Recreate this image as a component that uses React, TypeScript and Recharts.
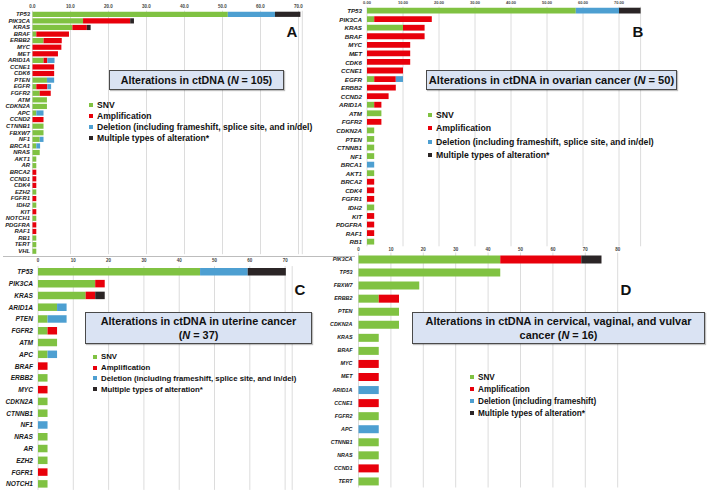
import { BarChart, Bar, XAxis, YAxis, CartesianGrid, Legend } from 'recharts';

const FONT = '"Liberation Sans", Arial, sans-serif';
const GREEN = '#80c242';
const RED = '#e8000b';
const BLUE = '#4d9fd1';
const BLACK = '#2b2526';

// Panel A: all patients (N = 105), % of patients
const genesA = ['TP53', 'PIK3CA', 'KRAS', 'BRAF', 'ERBB2', 'MYC', 'MET', 'ARID1A', 'CCNE1', 'CDK6', 'PTEN', 'EGFR', 'FGFR2', 'ATM', 'CDKN2A', 'APC', 'CCND2', 'CTNNB1', 'FBXW7', 'NF1', 'BRCA1', 'NRAS', 'AKT1', 'AR', 'BRCA2', 'CCND1', 'CDK4', 'EZH2', 'FGFR1', 'IDH2', 'KIT', 'NOTCH1', 'PDGFRA', 'RAF1', 'RB1', 'TERT', 'VHL'];
const snvA = [51.4, 13.3, 10.5, 1.0, 2.9, 0, 0, 2.9, 0, 0, 3.8, 1.0, 1.9, 3.8, 3.8, 1.0, 0, 2.9, 2.9, 1.9, 1.0, 1.9, 1.0, 1.0, 0, 0, 0, 1.0, 0, 1.0, 0, 1.0, 0, 0, 1.0, 1.0, 1.0];
const ampA = [0, 12.4, 3.8, 8.6, 4.8, 7.6, 6.7, 1.0, 5.7, 5.7, 0, 2.9, 2.9, 0, 0, 0, 2.9, 0, 0, 0, 0, 0, 0, 0, 1.0, 1.0, 1.0, 0, 1.0, 0, 1.0, 0, 1.0, 1.0, 0, 0, 0];
const delA = [12.4, 0, 0, 0, 0, 0, 0, 1.9, 0, 0, 1.9, 1.0, 0, 0, 0, 1.9, 0, 0, 0, 1.0, 1.0, 0, 0, 0, 0, 0, 0, 0, 0, 0, 0, 0, 0, 0, 0, 0, 0];
const multiA = [6.7, 1.0, 1.0, 0, 0, 0, 0, 0, 0, 0, 0, 0, 0, 0, 0, 0, 0, 0, 0, 0, 0, 0, 0, 0, 0, 0, 0, 0, 0, 0, 0, 0, 0, 0, 0, 0, 0];

// Panel B: ovarian (N = 50)
const genesB = ['TP53', 'PIK3CA', 'KRAS', 'BRAF', 'MYC', 'MET', 'CDK6', 'CCNE1', 'EGFR', 'ERBB2', 'CCND2', 'ARID1A', 'ATM', 'FGFR2', 'CDKN2A', 'PTEN', 'CTNNB1', 'NF1', 'BRCA1', 'AKT1', 'BRCA2', 'CDK4', 'FGFR1', 'IDH2', 'KIT', 'PDGFRA', 'RAF1', 'RB1'];
const snvB = [58, 2, 10, 0, 0, 0, 0, 0, 2, 0, 0, 2, 4, 0, 2, 2, 2, 2, 0, 2, 0, 0, 0, 2, 0, 0, 0, 2];
const ampB = [0, 16, 6, 16, 12, 12, 12, 10, 6, 8, 6, 2, 0, 4, 0, 0, 0, 0, 0, 0, 2, 2, 2, 0, 2, 2, 2, 0];
const delB = [12, 0, 0, 0, 0, 0, 0, 0, 2, 0, 0, 0, 0, 0, 0, 0, 0, 0, 2, 0, 0, 0, 0, 0, 0, 0, 0, 0];
const multiB = [6, 0, 0, 0, 0, 0, 0, 0, 0, 0, 0, 0, 0, 0, 0, 0, 0, 0, 0, 0, 0, 0, 0, 0, 0, 0, 0, 0];

// Panel C: uterine (N = 37)
const genesC = ['TP53', 'PIK3CA', 'KRAS', 'ARID1A', 'PTEN', 'FGFR2', 'ATM', 'APC', 'BRAF', 'ERBB2', 'MYC', 'CDKN2A', 'CTNNB1', 'NF1', 'NRAS', 'AR', 'EZH2', 'FGFR1', 'NOTCH1'];
const snvC = [45.9, 16.2, 13.5, 5.4, 2.7, 2.7, 5.4, 2.7, 0, 2.7, 0, 2.7, 2.7, 0, 2.7, 2.7, 2.7, 0, 2.7];
const ampC = [0, 2.7, 2.7, 0, 0, 2.7, 0, 0, 2.7, 0, 2.7, 0, 0, 0, 0, 0, 0, 2.7, 0];
const delC = [13.5, 0, 0, 2.7, 5.4, 0, 0, 2.7, 0, 0, 0, 0, 0, 2.7, 0, 0, 0, 0, 0];
const multiC = [10.8, 0, 2.7, 0, 0, 0, 0, 0, 0, 0, 0, 0, 0, 0, 0, 0, 0, 0, 0];

// Panel D: cervical, vaginal, vulvar (N = 16)
const genesD = ['PIK3CA', 'TP53', 'FBXW7', 'ERBB2', 'PTEN', 'CDKN2A', 'KRAS', 'BRAF', 'MYC', 'MET', 'ARID1A', 'CCNE1', 'FGFR2', 'APC', 'CTNNB1', 'NRAS', 'CCND1', 'TERT'];
const snvD = [43.75, 43.75, 18.75, 6.25, 12.5, 12.5, 6.25, 6.25, 0, 0, 0, 0, 6.25, 0, 6.25, 6.25, 0, 6.25];
const ampD = [25, 0, 0, 6.25, 0, 0, 0, 0, 6.25, 6.25, 0, 6.25, 0, 0, 0, 0, 6.25, 0];
const delD = [0, 0, 0, 0, 0, 0, 0, 0, 0, 0, 6.25, 0, 0, 6.25, 0, 0, 0, 0];
const multiD = [6.25, 0, 0, 0, 0, 0, 0, 0, 0, 0, 0, 0, 0, 0, 0, 0, 0, 0];

const ticks70 = [0, 10, 20, 30, 40, 50, 60, 70];
const ticks80 = [0, 10, 20, 30, 40, 50, 60, 70, 80];

const DEL_LONG = 'Deletion (including frameshift, splice site, and in/del)';
const DEL_SHORT = 'Deletion (including frameshift)';

const build = (genes: string[], snv: number[], amp: number[], del: number[], multi: number[]) =>
  genes.map((gene, i) => ({ gene, snv: snv[i], amp: amp[i], del: del[i], multi: multi[i] }));

const series = (delName: string) => [
  { key: 'snv', name: 'SNV', color: GREEN },
  { key: 'amp', name: 'Amplification', color: RED },
  { key: 'del', name: delName, color: BLUE },
  { key: 'multi', name: 'Multiple types of alteration*', color: BLACK },
];

interface PanelProps {
  data: any[];
  box: { left: number; top: number; width: number; height: number };
  margin: { top: number; right: number; bottom: number; left: number };
  xHeight: number;
  xTickMargin: number;
  xFont: number;
  yWidth: number;
  yTickMargin: number;
  yFont: number;
  domain: [number, number];
  ticks: number[];
  fmt: (v: number) => string;
  barSize: number;
  delName: string;
  legend: { left: number; top: number; fontSize: number; rowH: number };
}

function Panel(p: PanelProps) {
  const items = series(p.delName);
  return (
    <div style={{ position: 'absolute', left: p.box.left, top: p.box.top }}>
      <BarChart width={p.box.width} height={p.box.height} data={p.data} layout="vertical" margin={p.margin}>
        <CartesianGrid horizontal={false} stroke="#dcdcdc" />
        <XAxis
          type="number"
          orientation="top"
          domain={p.domain}
          ticks={p.ticks}
          height={p.xHeight}
          axisLine={false}
          tickLine={false}
          tickSize={1.5}
          tickMargin={p.xTickMargin}
          tickFormatter={p.fmt}
          tick={{ fontSize: p.xFont, fill: '#444', fontFamily: FONT, fontWeight: 'bold' }}
          interval={0}
        />
        <YAxis
          type="category"
          dataKey="gene"
          width={p.yWidth}
          axisLine={false}
          tickLine={false}
          tickSize={0}
          tickMargin={p.yTickMargin}
          interval={0}
          tick={{ fontSize: p.yFont, fill: '#1a1a1a', fontFamily: FONT, fontWeight: 'bold', fontStyle: 'italic' }}
        />
        <Legend
          layout="vertical"
          align="center"
          verticalAlign="middle"
          wrapperStyle={{ left: p.legend.left, top: p.legend.top, width: 'auto', height: 'auto' }}
          content={() => (
            <div style={{ fontFamily: FONT }}>
              {items.map((s) => (
                <div key={s.key} style={{ display: 'flex', alignItems: 'center', height: p.legend.rowH, whiteSpace: 'nowrap' }}>
                  <span style={{ width: 4, height: 4, background: s.color, display: 'inline-block' }} />
                  <span style={{ marginLeft: 4, fontSize: p.legend.fontSize, fontWeight: 'bold', color: '#111' }}>{s.name}</span>
                </div>
              ))}
            </div>
          )}
        />
        {items.map((s) => (
          <Bar key={s.key} dataKey={s.key} name={s.name} stackId="a" fill={s.color} barSize={p.barSize} isAnimationActive={false} />
        ))}
      </BarChart>
    </div>
  );
}

function TitleBox({ left, top, width, height, size, lines }: { left: number; top: number; width: number; height: number; size: number; lines: React.ReactNode[] }) {
  return (
    <div
      style={{
        position: 'absolute', left, top, width, height, boxSizing: 'border-box',
        background: '#dae3f3', border: '1.2px solid #4a4a4a', boxShadow: '1px 1px 1px rgba(0,0,0,0.25)',
        display: 'flex', flexDirection: 'column', justifyContent: 'center', alignItems: 'center',
        fontFamily: FONT, fontWeight: 'bold', fontSize: size, color: '#111', lineHeight: '14px', whiteSpace: 'nowrap',
      }}
    >
      {lines.map((l, i) => <div key={i}>{l}</div>)}
    </div>
  );
}

const Letter = ({ x, y, t }: { x: number; y: number; t: string }) => (
  <div style={{ position: 'absolute', left: x - 8, top: y - 9, width: 16, textAlign: 'center', fontFamily: FONT, fontWeight: 'bold', fontSize: 15, lineHeight: '18px', color: '#111' }}>{t}</div>
);

const N = () => <i>N</i>;

export default function App() {
  const dataA = build(genesA, snvA, ampA, delA, multiA);
  const dataB = build(genesB, snvB, ampB, delB, multiB);
  const dataC = build(genesC, snvC, ampC, delC, multiC);
  const dataD = build(genesD, snvD, ampD, delD, multiD);

  return (
    <div style={{ position: 'absolute', left: 0, top: 0, width: 709, height: 491, background: '#fff', overflow: 'hidden' }}>
      <Panel
        data={dataA}
        box={{ left: 0, top: 0, width: 355, height: 262 }}
        margin={{ top: 0, right: 52.7, bottom: 7.8, left: 0 }}
        xHeight={10.7} xTickMargin={1.5} xFont={4.5}
        yWidth={32.5} yTickMargin={2.5} yFont={5.9}
        domain={[0, 71]} ticks={ticks70} fmt={(v) => v.toFixed(1)}
        barSize={5.2} delName={DEL_LONG}
        legend={{ left: 89, top: 99.5, fontSize: 8.6, rowH: 11 }}
      />
      <Panel
        data={dataB}
        box={{ left: 325, top: 0, width: 384, height: 250 }}
        margin={{ top: 0, right: 68.4, bottom: 3.7, left: 0 }}
        xHeight={6.7} xTickMargin={1} xFont={4}
        yWidth={42} yTickMargin={5} yFont={6.2}
        domain={[0, 76]} ticks={ticks70} fmt={(v) => v.toFixed(2)}
        barSize={5.8} delName={DEL_LONG}
        legend={{ left: 103, top: 108.4, fontSize: 8.7, rowH: 13.3 }}
      />
      <div style={{ position: 'absolute', left: 3, top: 256, width: 352, height: 1, background: '#bdbdbd' }} />
      <Panel
        data={dataC}
        box={{ left: 0, top: 250, width: 355, height: 241 }}
        margin={{ top: 0, right: 62.8, bottom: 1.1, left: 0 }}
        xHeight={16.1} xTickMargin={2.6} xFont={4.5}
        yWidth={38} yTickMargin={5} yFont={6.6}
        domain={[0, 72]} ticks={ticks70} fmt={(v) => String(v)}
        barSize={7.5} delName={DEL_LONG}
        legend={{ left: 93, top: 101.6, fontSize: 7.8, rowH: 10.7 }}
      />
      <Panel
        data={dataD}
        box={{ left: 325, top: 240, width: 384, height: 251 }}
        margin={{ top: 0, right: 91.3, bottom: 3.5, left: 0 }}
        xHeight={12.5} xTickMargin={0.5} xFont={4.5}
        yWidth={33.5} yTickMargin={6} yFont={5.4}
        domain={[0, 80]} ticks={ticks80} fmt={(v) => String(v)}
        barSize={8} delName={DEL_SHORT}
        legend={{ left: 145, top: 131, fontSize: 8.2, rowH: 12 }}
      />

      <TitleBox left={109} top={69.5} width={175} height={20} size={10.7} lines={[<>Alterations in ctDNA (<N /> = 105)</>]} />
      <TitleBox left={426} top={69.5} width={251} height={20} size={11.1} lines={[<>Alterations in ctDNA in ovarian cancer (<N /> = 50)</>]} />
      <TitleBox left={85} top={312} width={227} height={32} size={10.9} lines={['Alterations in ctDNA in uterine cancer', <>(<N /> = 37)</>]} />
      <TitleBox left={412} top={312} width={293} height={32} size={10.9} lines={['Alterations in ctDNA in cervical, vaginal, and vulvar', <>cancer (<N /> = 16)</>]} />

      <Letter x={292} y={32} t="A" />
      <Letter x={638} y={32} t="B" />
      <Letter x={300} y={290} t="C" />
      <Letter x={626} y={290} t="D" />
    </div>
  );
}
